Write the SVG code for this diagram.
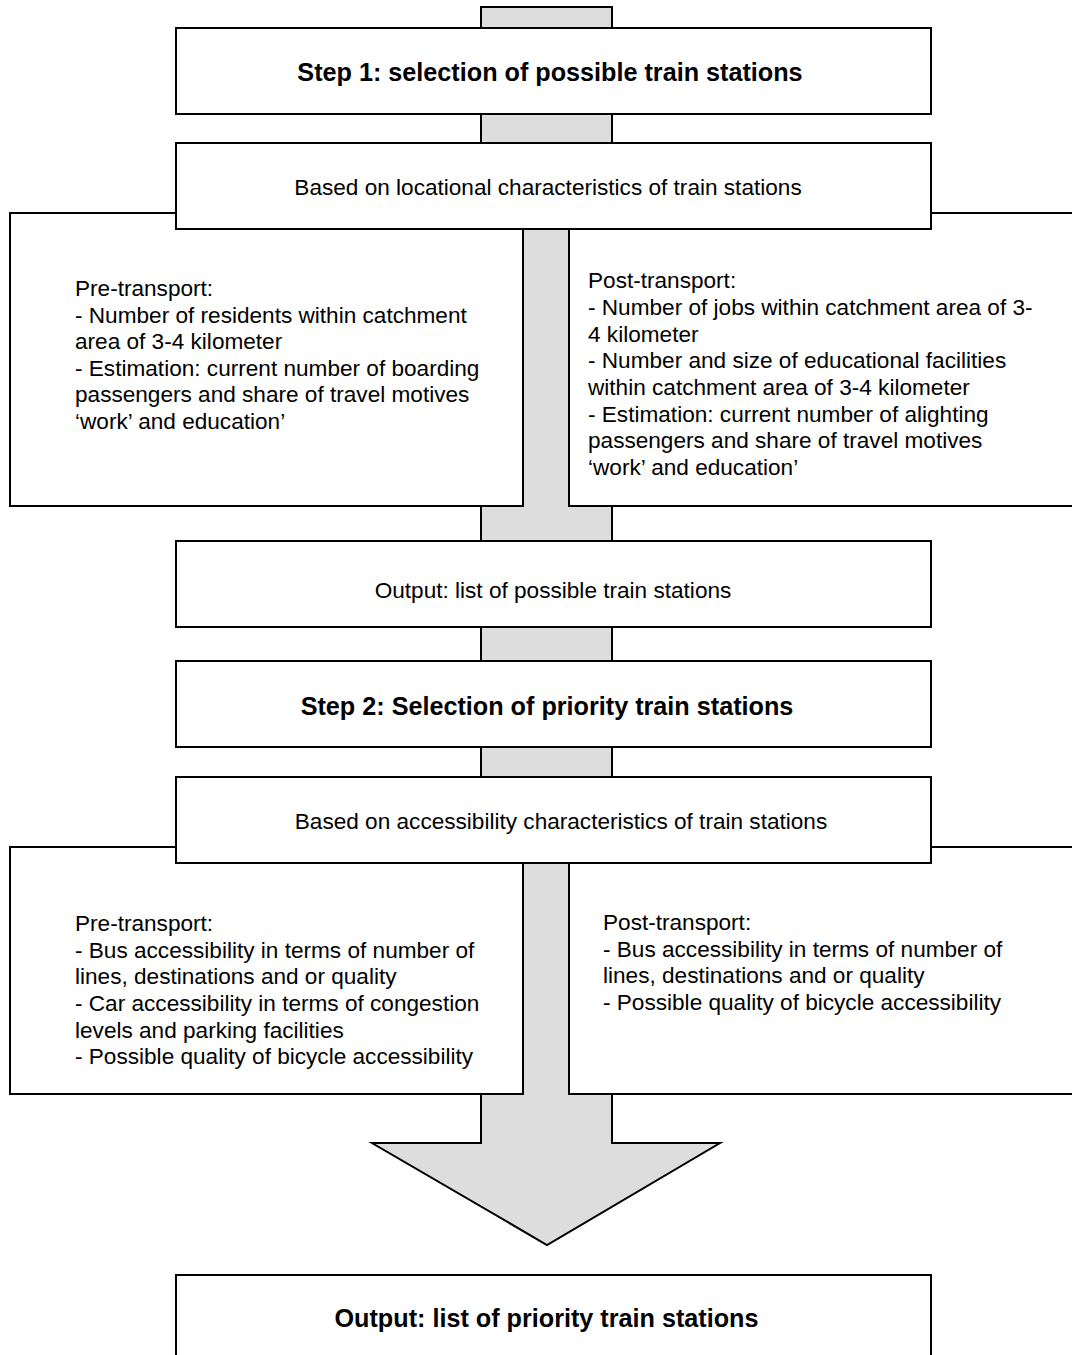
<svg xmlns="http://www.w3.org/2000/svg" width="1072" height="1355" viewBox="0 0 1072 1355">
<style>
.box{fill:#fff;stroke:#000;stroke-width:2}
.arrow{fill:#dddddd;stroke:#000;stroke-width:2;stroke-linejoin:miter}
.t{font-family:"Liberation Sans",Arial,sans-serif;font-size:22.6px;fill:#000}
.c{text-anchor:middle}
.b{font-weight:bold;font-size:25.2px}
</style>
<rect width="1072" height="1355" fill="#fff"/>
<g id="connectors">
<polygon class="arrow" points="481,7 612,7 612,1143 720,1143 547,1245 372,1143 481,1143"/>
</g>
<g id="step1">
<rect class="box" x="176" y="28" width="755" height="86"/>
<text class="t c b" x="550" y="81">Step 1: selection of possible train stations</text>
</g>
<g id="pre1">
<rect class="box" x="10" y="213" width="513" height="293"/>
<text class="t" x="75" y="296">Pre-transport:</text>
<text class="t" x="75" y="323">- Number of residents within catchment</text>
<text class="t" x="75" y="349">area of 3-4 kilometer</text>
<text class="t" x="75" y="376">- Estimation: current number of boarding</text>
<text class="t" x="75" y="402">passengers and share of travel motives</text>
<text class="t" x="75" y="429">‘work’ and education’</text>
</g>
<g id="post1">
<rect class="box" x="569" y="213" width="520" height="293"/>
<text class="t" x="588" y="288">Post-transport:</text>
<text class="t" x="588" y="315">- Number of jobs within catchment area of 3-</text>
<text class="t" x="588" y="342">4 kilometer</text>
<text class="t" x="588" y="368">- Number and size of educational facilities</text>
<text class="t" x="588" y="395">within catchment area of 3-4 kilometer</text>
<text class="t" x="588" y="422">- Estimation: current number of alighting</text>
<text class="t" x="588" y="448">passengers and share of travel motives</text>
<text class="t" x="588" y="475">‘work’ and education’</text>
</g>
<g id="based1">
<rect class="box" x="176" y="143" width="755" height="86"/>
<text class="t c" x="548" y="195">Based on locational characteristics of train stations</text>
</g>
<g id="output1">
<rect class="box" x="176" y="541" width="755" height="86"/>
<text class="t c" x="553" y="598">Output: list of possible train stations</text>
</g>
<g id="step2">
<rect class="box" x="176" y="661" width="755" height="86"/>
<text class="t c b" x="547" y="715">Step 2: Selection of priority train stations</text>
</g>
<g id="pre2">
<rect class="box" x="10" y="847" width="513" height="247"/>
<text class="t" x="75" y="931">Pre-transport:</text>
<text class="t" x="75" y="958">- Bus accessibility in terms of number of</text>
<text class="t" x="75" y="984">lines, destinations and or quality</text>
<text class="t" x="75" y="1011">- Car accessibility in terms of congestion</text>
<text class="t" x="75" y="1038">levels and parking facilities</text>
<text class="t" x="75" y="1064">- Possible quality of bicycle accessibility</text>
</g>
<g id="post2">
<rect class="box" x="569" y="847" width="520" height="247"/>
<text class="t" x="603" y="930">Post-transport:</text>
<text class="t" x="603" y="957">- Bus accessibility in terms of number of</text>
<text class="t" x="603" y="983">lines, destinations and or quality</text>
<text class="t" x="603" y="1010">- Possible quality of bicycle accessibility</text>
</g>
<g id="based2">
<rect class="box" x="176" y="777" width="755" height="86"/>
<text class="t c" x="561" y="829">Based on accessibility characteristics of train stations</text>
</g>
<g id="output2">
<rect class="box" x="176" y="1275" width="755" height="100"/>
<text class="t c b" x="546.5" y="1327">Output: list of priority train stations</text>
</g>
</svg>
